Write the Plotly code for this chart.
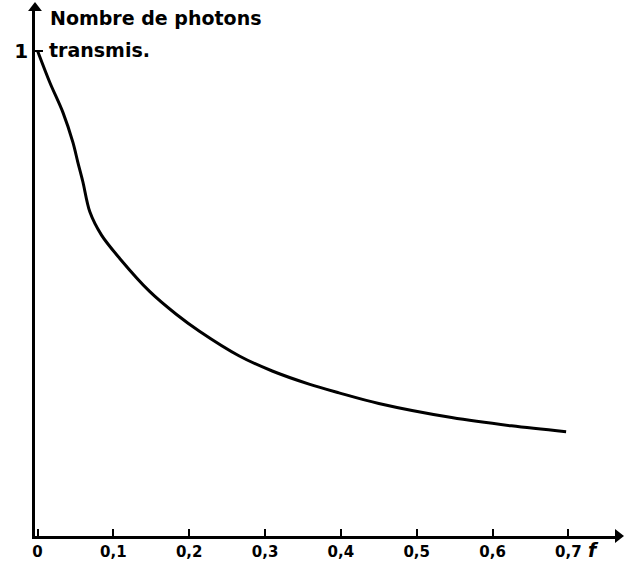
import plotly.graph_objects as go

# Data
f_values = [0.0, 0.0164, 0.0335, 0.0467, 0.0532, 0.0598, 0.069, 0.0844, 0.1084,
            0.1478, 0.1829, 0.2135, 0.2661, 0.3095, 0.3581, 0.3975, 0.450,
            0.546, 0.625, 0.697]
photons = [1.0, 0.934, 0.873, 0.811, 0.770, 0.730, 0.668, 0.620, 0.572,
           0.504, 0.457, 0.422, 0.371, 0.340, 0.313, 0.295, 0.273,
           0.244, 0.227, 0.215]

x_ticks = [0.1, 0.2, 0.3, 0.4, 0.5, 0.6, 0.7]
x_tick_labels = ["0,1", "0,2", "0,3", "0,4", "0,5", "0,6", "0,7"]
y_ticks = [1]
y_tick_labels = ["1"]

XMIN, XMAX = -0.0033, 0.7654
YMIN, YMAX = 0.0, 1.088

fig = go.Figure()
fig.add_trace(go.Scatter(
    x=f_values, y=photons, mode="lines",
    line=dict(color="black", width=3, shape="spline", smoothing=0.9),
    hoverinfo="skip", showlegend=False,
))
# Arrowheads on the axes
fig.add_trace(go.Scatter(
    x=[XMIN], y=[YMAX], mode="markers",
    marker=dict(symbol="triangle-up", size=12, color="black"),
    cliponaxis=False, showlegend=False, hoverinfo="skip",
))
fig.add_trace(go.Scatter(
    x=[XMAX], y=[YMIN], mode="markers",
    marker=dict(symbol="triangle-right", size=12, color="black"),
    cliponaxis=False, showlegend=False, hoverinfo="skip",
))

fig.update_layout(
    width=624, height=561,
    margin=dict(l=35, r=6, t=8, b=25),
    paper_bgcolor="white", plot_bgcolor="white",
    xaxis=dict(
        range=[XMIN, XMAX], tickvals=[0] + x_ticks, ticktext=["0"] + x_tick_labels,
        ticks="inside", ticklen=7, tickwidth=2, tickcolor="black",
        showline=True, linecolor="black", linewidth=2.5,
        showgrid=False, zeroline=False, automargin=False,
        tickfont=dict(family="DejaVu Sans", size=15, color="black", weight="bold"),
    ),
    yaxis=dict(
        range=[YMIN, YMAX], tickvals=y_ticks, ticktext=y_tick_labels,
        ticks="inside", ticklen=8, tickwidth=2, tickcolor="black",
        showline=True, linecolor="black", linewidth=2.5,
        showgrid=False, zeroline=False, automargin=False,
        tickfont=dict(family="DejaVu Sans", size=20, color="black", weight="bold"),
    ),
    annotations=[
        dict(text="<b>Nombre de photons</b>", xref="paper", yref="paper",
             x=0.023, y=1.0, xanchor="left", yanchor="middle", showarrow=False,
             font=dict(family="DejaVu Sans", size=19, color="black"), yshift=-10),
        dict(text="<b>transmis.</b>", xref="paper", yref="y",
             x=0.020, y=1.0, xanchor="left", yanchor="middle", showarrow=False,
             font=dict(family="DejaVu Sans", size=19, color="black"), yshift=1),
        dict(text="<b><i>f</i></b>", xref="x", yref="paper",
             x=0.733, y=0, xanchor="center", yanchor="top", showarrow=False,
             font=dict(family="DejaVu Sans", size=19, color="black"), yshift=-1),
    ],
)

fig.write_html("out.html", config={"displayModeBar": False},
               post_script="document.body.style.margin='0';")
